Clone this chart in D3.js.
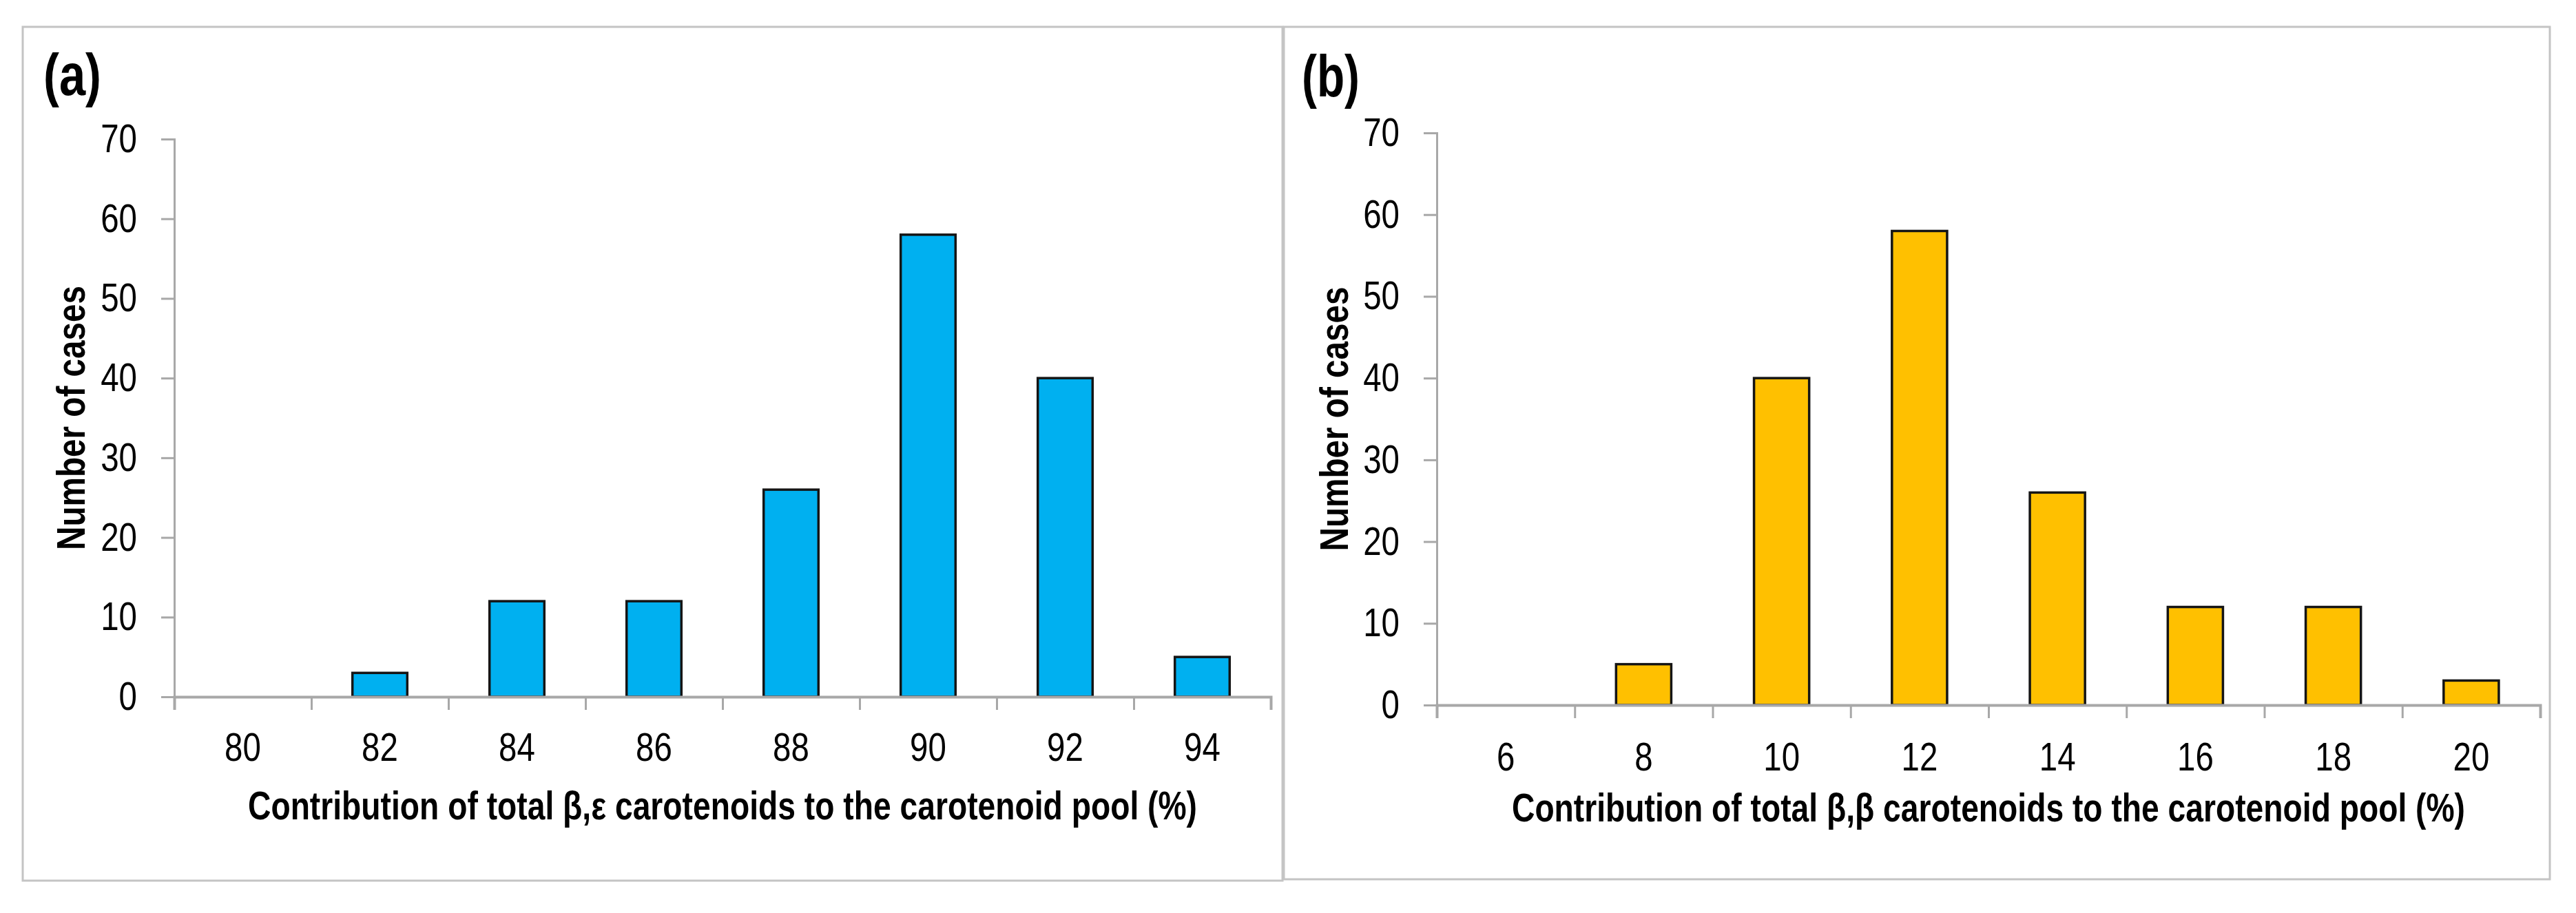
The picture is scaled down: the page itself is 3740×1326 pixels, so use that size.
<!DOCTYPE html>
<html>
<head>
<meta charset="utf-8">
<script src="https://cdn.jsdelivr.net/npm/d3@7"></script>
<style>
  html, body { margin: 0; padding: 0; background: #ffffff; }
  svg { display: block; }
  text { font-family: "Liberation Sans Narrow", "Arial Narrow", "Liberation Sans", Arial, sans-serif; fill: #000; }
</style>
</head>
<body>
<svg id="chart" width="3740" height="1326"></svg>
<script>
// ---- data ----
const categoriesA = ["80", "82", "84", "86", "88", "90", "92", "94"];
const valuesA = [0, 3, 12, 12, 26, 58, 40, 5];
const categoriesB = ["6", "8", "10", "12", "14", "16", "18", "20"];
const valuesB = [0, 5, 40, 58, 26, 12, 12, 3];
const yTickValues = [0, 10, 20, 30, 40, 50, 60, 70];
const yMax = 70;
const titleY = "Number of cases";
const titleXA = "Contribution of total \u03b2,\u03b5 carotenoids to the carotenoid pool (%)";
const titleXB = "Contribution of total \u03b2,\u03b2 carotenoids to the carotenoid pool (%)";

const svg = d3.select("#chart");
svg.append("rect").attr("width", 3740).attr("height", 1326).attr("fill", "#fff");

const panels = [
  { label: "(a)", cats: categoriesA, vals: valuesA, xTitle: titleXA, color: "#00b0f0",
    box: [33, 39, 1862, 1279], x0: 253, x1: 1845, y0: 1012, y1: 202,
    labelPos: [63, 138], tickLabelY: 1105, xTitleY: 1190, xTitleLen: 1378, yTitleX: 123 },
  { label: "(b)", cats: categoriesB, vals: valuesB, xTitle: titleXB, color: "#ffc000",
    box: [1864, 39, 3702, 1277], x0: 2086, x1: 3688, y0: 1024, y1: 193,
    labelPos: [1890, 140], tickLabelY: 1119, xTitleY: 1193, xTitleLen: 1384, yTitleX: 1957 }
];

const digitW = 26.4;

// only compress a text when the installed font is noticeably wider than the target
function fit(sel, target) {
  const node = sel.node();
  const w = node.getComputedTextLength();
  if (w > 0 && Math.abs(w - target) / target > 0.04) {
    sel.attr("textLength", target).attr("lengthAdjust", "spacingAndGlyphs");
  }
}

panels.forEach(p => {
  const g = svg.append("g");
  // panel frame
  g.append("rect")
    .attr("x", p.box[0]).attr("y", p.box[1])
    .attr("width", p.box[2] - p.box[0]).attr("height", p.box[3] - p.box[1])
    .attr("fill", "none").attr("stroke", "#c4c4c4").attr("stroke-width", 3);

  const x = d3.scaleBand().domain(p.cats).range([p.x0, p.x1]).paddingInner(0).paddingOuter(0);
  const xb = d3.scaleLinear().domain([0, p.cats.length]).range([p.x0, p.x1]);
  const y = d3.scaleLinear().domain([0, yMax]).range([p.y0, p.y1]);

  // bars
  const bw = x.bandwidth();
  g.selectAll("rect.bar").data(p.cats.map((c, i) => ({ c, v: p.vals[i] })).filter(d => d.v > 0))
    .enter().append("rect").attr("class", "bar")
    .attr("x", d => x(d.c) + bw * 0.3)
    .attr("width", bw * 0.4)
    .attr("y", d => y(d.v))
    .attr("height", d => y(0) - y(d.v))
    .attr("fill", p.color)
    .attr("stroke", "#151515").attr("stroke-width", 3.5);

  // y axis
  const yAxis = d3.axisLeft(y).tickValues(yTickValues).tickSize(19).tickPadding(35).tickFormat(d3.format("d"));
  const ya = g.append("g").attr("transform", `translate(${p.x0},0)`).call(yAxis);
  ya.select(".domain").attr("stroke", "#a8a8a8").attr("stroke-width", 3);
  ya.selectAll(".tick line").attr("stroke", "#a8a8a8").attr("stroke-width", 3);
  ya.selectAll(".tick text").attr("font-size", 58).attr("fill", "#000")
    .attr("font-family", null)
    .each(function() {
      const t = d3.select(this);
      fit(t, t.text().length * digitW);
    });

  // x axis: boundary ticks
  const xTickAxis = d3.axisBottom(xb).tickValues(d3.range(p.cats.length + 1)).tickSize(19).tickFormat("");
  const xa = g.append("g").attr("transform", `translate(0,${p.y0})`).call(xTickAxis);
  xa.select(".domain").attr("stroke", "#a8a8a8").attr("stroke-width", 4);
  xa.selectAll(".tick line").attr("stroke", "#a8a8a8").attr("stroke-width", 3);

  // x axis: category labels at band centers
  const xLabelAxis = d3.axisBottom(x).tickSize(0).tickPadding(0);
  const xl = g.append("g").attr("transform", `translate(0,${p.tickLabelY})`).call(xLabelAxis);
  xl.select(".domain").remove();
  xl.selectAll(".tick text").attr("font-size", 58).attr("fill", "#000")
    .attr("font-family", null).attr("dy", 0).attr("y", 0)
    .each(function() {
      const t = d3.select(this);
      fit(t, t.text().length * digitW);
    });

  // x title
  const xt = g.append("text")
    .attr("x", (p.x0 + p.x1) / 2).attr("y", p.xTitleY)
    .attr("text-anchor", "middle").attr("font-size", 58).attr("font-weight", "bold")
    .text(p.xTitle);
  fit(xt, p.xTitleLen);

  // y title
  const cy = (p.y0 + p.y1) / 2;
  const yt = g.append("text")
    .attr("transform", `translate(${p.yTitleX},${cy}) rotate(-90)`)
    .attr("text-anchor", "middle").attr("font-size", 58).attr("font-weight", "bold")
    .text(titleY);
  fit(yt, 384);

  // panel label
  const pl = g.append("text")
    .attr("x", p.labelPos[0]).attr("y", p.labelPos[1])
    .attr("font-size", 86).attr("font-weight", "bold")
    .text(p.label);
  fit(pl, 84);
});
</script>
</body>
</html>
